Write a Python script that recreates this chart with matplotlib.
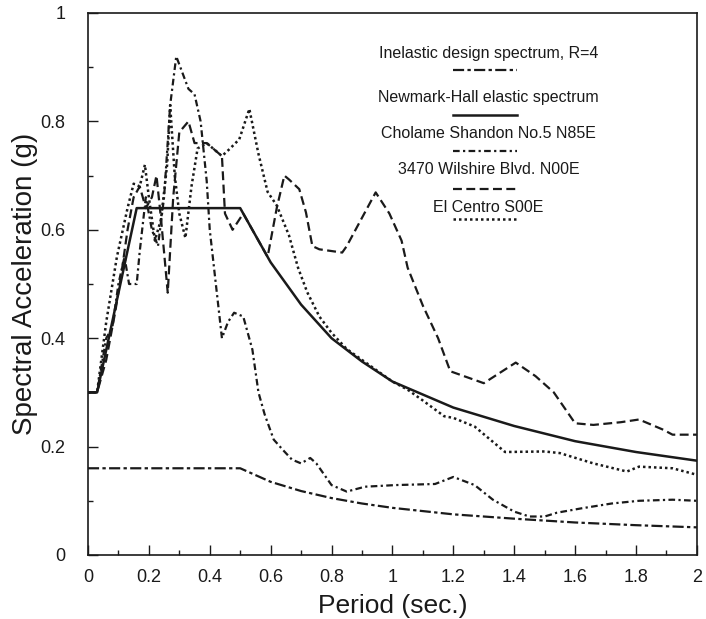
import matplotlib
matplotlib.use("Agg")
import matplotlib.pyplot as plt
from matplotlib.ticker import MultipleLocator

plt.rcParams['font.family'] = ['Liberation Sans', 'DejaVu Sans']

# Inelastic design spectrum, R=4
t_design = [0, 0.1, 0.2, 0.3, 0.4, 0.5, 0.6, 0.7, 0.8, 0.9, 1.0, 1.2, 1.4, 1.6, 1.8, 2.0]
a_design = [0.16, 0.16, 0.16, 0.16, 0.16, 0.16, 0.135, 0.118, 0.105, 0.095, 0.087,
            0.075, 0.067, 0.060, 0.055, 0.051]

# Newmark-Hall elastic spectrum
t_nh = [0, 0.03, 0.16, 0.5, 0.6, 0.7, 0.8, 0.9, 1.0, 1.2, 1.4, 1.6, 1.8, 2.0]
a_nh = [0.30, 0.30, 0.64, 0.64, 0.54, 0.462, 0.40, 0.357, 0.32, 0.272, 0.238, 0.21, 0.19, 0.174]

# Cholame Shandon No.5 N85E
t_cho = [0, 0.03, 0.06, 0.08, 0.10, 0.12, 0.135, 0.16, 0.17, 0.19, 0.21, 0.23, 0.25, 0.27,
         0.29, 0.31, 0.33, 0.35, 0.37, 0.39, 0.40, 0.42, 0.44, 0.46, 0.48, 0.51, 0.54, 0.56,
         0.58, 0.61, 0.64, 0.67, 0.70, 0.73, 0.75, 0.78, 0.80, 0.85, 0.91, 1.01, 1.14, 1.20,
         1.27, 1.33, 1.40, 1.45, 1.50, 1.54, 1.62, 1.72, 1.81, 1.92, 2.0]
a_cho = [0.30, 0.30, 0.40, 0.42, 0.50, 0.55, 0.50, 0.50, 0.56, 0.66, 0.60, 0.57, 0.66, 0.83,
         0.92, 0.89, 0.86, 0.85, 0.80, 0.69, 0.60, 0.50, 0.40, 0.43, 0.447, 0.44, 0.379, 0.30,
         0.26, 0.213, 0.194, 0.176, 0.169, 0.179, 0.169, 0.145, 0.129, 0.117, 0.126, 0.129,
         0.131, 0.144, 0.129, 0.102, 0.080, 0.071, 0.071, 0.078, 0.086, 0.095, 0.100, 0.102, 0.100]

# 3470 Wilshire Blvd. N00E
t_wil = [0, 0.03, 0.06, 0.09, 0.11, 0.13, 0.15, 0.17, 0.19, 0.21, 0.225, 0.24, 0.262, 0.28,
         0.30, 0.33, 0.35, 0.39, 0.44, 0.45, 0.475, 0.51, 0.55, 0.59, 0.62, 0.645, 0.66, 0.694,
         0.716, 0.737, 0.76, 0.835, 0.85, 0.945, 0.99, 1.03, 1.05, 1.10, 1.15, 1.19, 1.30,
         1.405, 1.47, 1.53, 1.60, 1.66, 1.75, 1.81, 1.89, 1.92, 2.0]
a_wil = [0.30, 0.30, 0.36, 0.45, 0.52, 0.60, 0.66, 0.68, 0.64, 0.66, 0.70, 0.62, 0.484, 0.66,
         0.78, 0.80, 0.76, 0.76, 0.736, 0.63, 0.60, 0.63, 0.59, 0.55, 0.64, 0.70, 0.693, 0.675,
         0.632, 0.57, 0.564, 0.558, 0.57, 0.669, 0.63, 0.58, 0.53, 0.46, 0.40, 0.339, 0.317,
         0.355, 0.33, 0.30, 0.243, 0.24, 0.245, 0.25, 0.231, 0.222, 0.222]

# El Centro S00E
t_elc = [0, 0.03, 0.06, 0.095, 0.13, 0.15, 0.17, 0.187, 0.20, 0.22, 0.24, 0.26, 0.27, 0.285,
         0.30, 0.32, 0.34, 0.36, 0.39, 0.44, 0.465, 0.497, 0.53, 0.56, 0.59, 0.62, 0.66, 0.69,
         0.72, 0.76, 0.80, 0.85, 0.90, 0.95, 1.0, 1.05, 1.10, 1.17, 1.20, 1.27, 1.37, 1.50,
         1.55, 1.66, 1.77, 1.81, 1.92, 2.0]
a_elc = [0.30, 0.30, 0.43, 0.55, 0.64, 0.685, 0.68, 0.72, 0.66, 0.58, 0.62, 0.72, 0.83, 0.70,
         0.63, 0.585, 0.68, 0.75, 0.76, 0.736, 0.749, 0.767, 0.823, 0.74, 0.67, 0.645, 0.59,
         0.53, 0.485, 0.44, 0.41, 0.38, 0.36, 0.34, 0.32, 0.305, 0.285, 0.256, 0.253, 0.237,
         0.19, 0.191, 0.188, 0.169, 0.154, 0.163, 0.160, 0.148]

labels = ['Inelastic design spectrum, R=4', 'Newmark-Hall elastic spectrum',
          'Cholame Shandon No.5 N85E', '3470 Wilshire Blvd. N00E', 'El Centro S00E']

ink = '#1a1a1a'
styles = [dict(dashes=(5, 1.5, 1.5, 1.5), lw=1.6),
          dict(ls='-', lw=1.8),
          dict(dashes=(3, 1.5, 1, 1.5), lw=1.6),
          dict(dashes=(4, 2), lw=1.6),
          dict(dashes=(1, 1.2), lw=1.8)]
series = [(t_design, a_design), (t_nh, a_nh), (t_cho, a_cho), (t_wil, a_wil), (t_elc, a_elc)]

fig = plt.figure(figsize=(7.06, 6.19), dpi=100)
ax = fig.add_axes([0.1246, 0.1034, 0.8625, 0.8756])

for (t, a), st in zip(series, styles):
    ax.plot(t, a, color=ink, **st)

ax.set_xlim(0, 2)
ax.set_ylim(0, 1)
ax.set_xticks([0, 0.2, 0.4, 0.6, 0.8, 1.0, 1.2, 1.4, 1.6, 1.8, 2.0])
ax.set_yticks([0, 0.2, 0.4, 0.6, 0.8, 1.0])
ax.set_xticklabels(['0', '0.2', '0.4', '0.6', '0.8', '1', '1.2', '1.4', '1.6', '1.8', '2'])
ax.set_yticklabels(['0', '0.2', '0.4', '0.6', '0.8', '1'])
ax.xaxis.set_minor_locator(MultipleLocator(0.1))
ax.yaxis.set_minor_locator(MultipleLocator(0.1))
ax.tick_params(which='major', direction='in', length=7, width=1, labelsize=13, colors=ink)
ax.tick_params(axis='x', which='major', pad=10)
ax.tick_params(axis='y', which='major', pad=16)
ax.tick_params(which='minor', direction='in', length=3.5, width=1, colors=ink)
for s in ax.spines.values():
    s.set_linewidth(1.2)
    s.set_color(ink)

ax.set_xlabel('Period (sec.)', fontsize=19, color=ink, labelpad=6)
ax.set_ylabel('Spectral Acceleration (g)', fontsize=20, color=ink, labelpad=2)

# legend: label centred with its line sample underneath
text_y = [0.925, 0.844, 0.778, 0.712, 0.642]
line_y = [0.894, 0.811, 0.745, 0.676, 0.620]
for lab, st, ty, ly in zip(labels, styles, text_y, line_y):
    ax.text(0.658, ty, lab, transform=ax.transAxes, ha='center', va='center',
            fontsize=11.5, color=ink)
    ax.plot([0.60, 0.705], [ly, ly], transform=ax.transAxes, color=ink, **st)

fig.savefig('out.png', dpi=100)
